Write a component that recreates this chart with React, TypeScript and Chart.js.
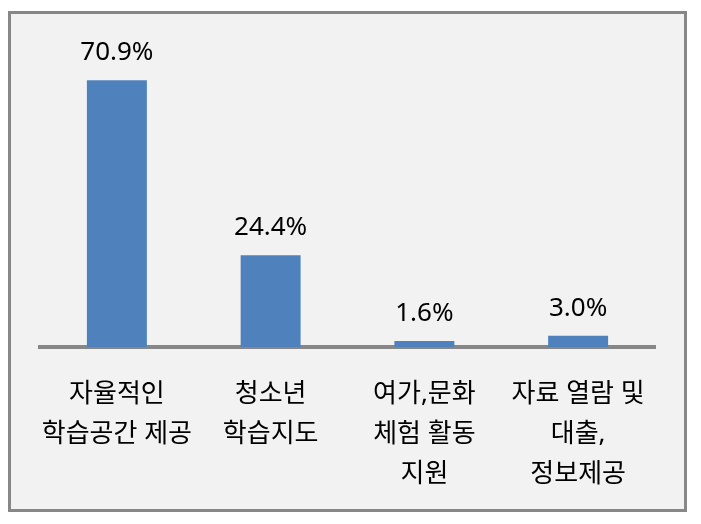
import React, { useEffect, useRef } from "react";
import { Chart, registerables } from "chart.js";

Chart.register(...registerables);

const categories: string[][] = [
  ["자율적인", "학습공간 제공"],
  ["청소년", "학습지도"],
  ["여가,문화", "체험 활동", "지원"],
  ["자료 열람 및", "대출,", "정보제공"],
];
const values: number[] = [70.9, 24.4, 1.6, 3.0];
const yMax = 80;

const FONT = "'Noto Sans', 'Noto Sans CJK KR', sans-serif";

const framePlugin = {
  id: "frame",
  beforeDraw(chart: any) {
    const ctx = chart.ctx;
    ctx.save();
    ctx.fillStyle = "#ffffff";
    ctx.fillRect(0, 0, chart.width, chart.height);
    ctx.fillStyle = "#f2f2f2";
    ctx.fillRect(9.5, 12.5, 676, 498);
    ctx.strokeStyle = "#878787";
    ctx.lineWidth = 3;
    ctx.strokeRect(9.5, 12.5, 676, 498);
    ctx.restore();
  },
};

const valueLabelPlugin = {
  id: "valueLabels",
  afterDatasetsDraw(chart: any) {
    const ctx = chart.ctx;
    const meta = chart.getDatasetMeta(0);
    ctx.save();
    ctx.font = `26px ${FONT}`;
    ctx.fillStyle = "#000000";
    ctx.textAlign = "center";
    ctx.textBaseline = "alphabetic";
    meta.data.forEach((el: any, i: number) => {
      const v = chart.data.datasets[0].data[i] as number;
      ctx.fillText(v.toFixed(1) + "%", el.x, el.y - 20);
    });
    ctx.restore();
  },
};

export default function App() {
  const ref = useRef<HTMLCanvasElement | null>(null);
  useEffect(() => {
    if (!ref.current) return;
    const chart = new Chart(ref.current, {
      type: "bar",
      data: {
        labels: categories,
        datasets: [
          {
            data: values,
            backgroundColor: "#4f81bd",
            borderWidth: 0,
            barPercentage: 0.39,
            categoryPercentage: 1,
          },
        ],
      },
      options: {
        responsive: false,
        animation: false,
        layout: { padding: { left: 40, right: 46, top: 46, bottom: 1 } },
        plugins: {
          legend: { display: false },
          tooltip: { enabled: false },
          title: { display: false },
        },
        scales: {
          x: {
            grid: { display: false, drawTicks: false },
            border: { display: true, color: "#878787", width: 4 },
            ticks: {
              autoSkip: false,
              maxRotation: 0,
              minRotation: 0,
              padding: 28,
              color: "#000000",
              font: { family: FONT, size: 26, lineHeight: 40 / 26 },
            },
          },
          y: {
            display: false,
            min: 0,
            max: yMax,
          },
        },
      },
      plugins: [framePlugin, valueLabelPlugin],
    });
    return () => chart.destroy();
  }, []);
  return (
    <div style={{ position: "absolute", left: 0, top: 0, width: 701, height: 524 }}>
      <canvas ref={ref} width={701} height={524} />
    </div>
  );
}
